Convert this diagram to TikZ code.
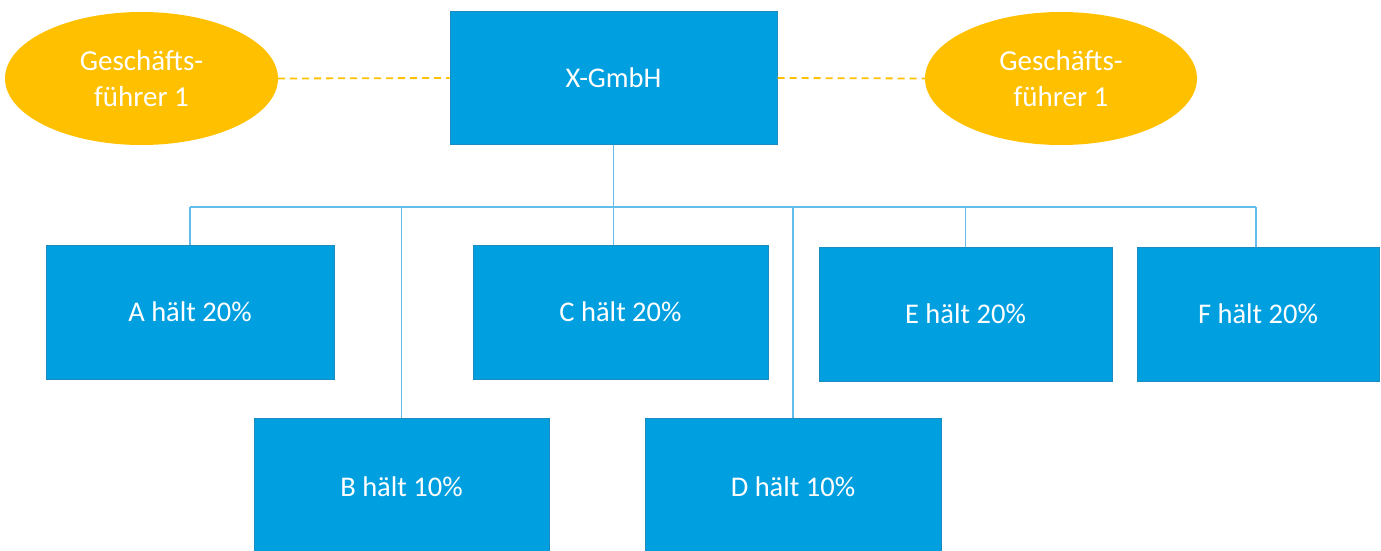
\documentclass[tikz,border=0pt]{standalone}
\usepackage{fontspec}
\setmainfont{Carlito}
\usetikzlibrary{shapes.geometric}
\definecolor{boxblue}{HTML}{009FE0}
\definecolor{boxedge}{HTML}{1A8CC0}
\definecolor{linkblue}{HTML}{62BDEA}
\definecolor{gold}{HTML}{FFC000}
\tikzset{
  orgbox/.style={rectangle, fill=boxblue, draw=boxedge, line width=1pt, text=white, font=\fontsize{28.5}{34}\selectfont, inner sep=0pt},
  gf/.style={ellipse, fill=gold, draw=none, text=white, align=center, font=\fontsize{29}{36}\selectfont, inner sep=0pt},
  link/.style={draw=linkblue, line width=1.3pt},
  gflink/.style={draw=gold, line width=1.8pt, dash pattern=on 7pt off 5pt}
}
\begin{document}
\begin{tikzpicture}[x=1pt,y=-1pt]
\useasboundingbox (0,0) rectangle (1381,551);
\clip (0,0) rectangle (1381,551);
\node[orgbox, minimum width=327pt, minimum height=132pt] (X) at (613.5,78) {X-GmbH};
\node[gf, minimum width=273pt, minimum height=133pt] (G1) at (141.5,78.5) {Geschäfts-\\führer 1};
\node[gf, minimum width=272pt, minimum height=133pt] (G2) at (1061,78.5) {Geschäfts-\\führer 1};
\node[orgbox, minimum width=288pt, minimum height=134pt] (A) at (190,312) {A hält 20\%};
\node[orgbox, minimum width=295pt, minimum height=134pt] (C) at (620.5,312) {C hält 20\%};
\node[orgbox, minimum width=293pt, minimum height=134pt] (E) at (965.5,314) {E hält 20\%};
\node[orgbox, minimum width=242pt, minimum height=134pt] (F) at (1258,314) {F hält 20\%};
\node[orgbox, minimum width=295pt, minimum height=136pt] (B) at (401.5,486.5) {B hält 10\%};
\node[orgbox, minimum width=296pt, minimum height=136pt] (D) at (793,486.5) {D hält 10\%};
\coordinate (busL) at (190,207);
\coordinate (busR) at (1256,207);
\draw[gflink] (G1.east) -- (X.west);
\draw[gflink] (X.east) -- (G2.west);
\draw[link] (busL) -- (busR);
\draw[link] (X.south) -- (X.south |- C.north);
\draw[link] (busL) -- (A.north);
\draw[link] (B.north |- busL) -- (B.north);
\draw[link] (D.north |- busL) -- (D.north);
\draw[link] (E.north |- busL) -- (E.north);
\draw[link] (busR) -- (busR |- F.north);
\end{tikzpicture}
\end{document}
